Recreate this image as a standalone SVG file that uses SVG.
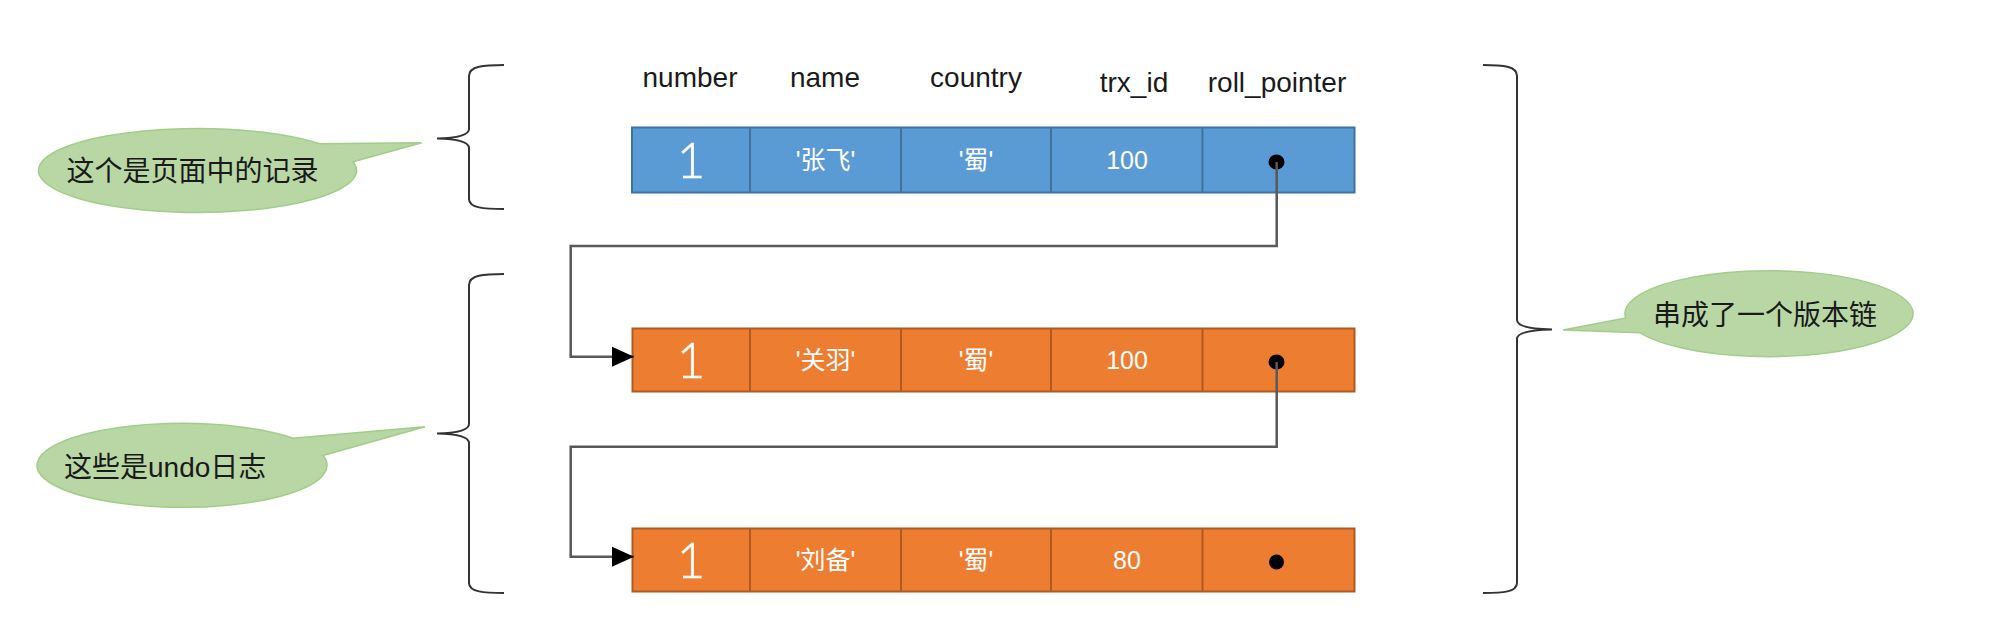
<svg xmlns="http://www.w3.org/2000/svg" width="2014" height="638" viewBox="0 0 2014 638">
<style>
.hdr{font-family:"Liberation Sans","Noto Sans CJK SC",sans-serif;font-size:28px;fill:#1a1a1a;text-anchor:middle}
.blue{fill:#5b9bd5;stroke:#41719c;stroke-width:2}
.orange{fill:#ed7d31;stroke:#ae5a21;stroke-width:2}
.div{stroke-width:2}
.bluediv{stroke:#41719c}
.orangediv{stroke:#ae5a21}
.big{font-family:"Lato","Open Sans","Liberation Sans",sans-serif;font-weight:300;font-size:49px;fill:#ffffff;text-anchor:middle;stroke:#ffffff;stroke-width:0.6}
.val{font-family:"Liberation Sans","Noto Sans CJK SC",sans-serif;font-size:25px;fill:#ffffff;text-anchor:middle}
.dot{fill:#000000}
.conn{fill:none;stroke:#595959;stroke-width:2.5}
.brace{fill:none;stroke:#333333;stroke-width:2}
.bubble{fill:#b9d7a5;stroke:#a3cc88;stroke-width:1.5}
.btxt{font-family:"Liberation Sans","Noto Sans CJK SC",sans-serif;font-size:28px;fill:#1a1a1a}
</style>
<defs>
<marker id="arrow" markerUnits="userSpaceOnUse" markerWidth="22" markerHeight="20" refX="22" refY="10" orient="auto">
<path d="M0,0 L22,10 L0,20 Z" fill="#000000"/>
</marker>
</defs>
<rect width="2014" height="638" fill="#ffffff"/>

<g id="headers">
<text class="hdr" x="690" y="87">number</text>
<text class="hdr" x="825" y="87">name</text>
<text class="hdr" x="976" y="87">country</text>
<text class="hdr" x="1134" y="92">trx_id</text>
<text class="hdr" x="1277" y="92">roll_pointer</text>
</g>

<g id="record-page">
<rect class="blue" x="632" y="127.5" width="722.5" height="65"/>
<g class="bluediv div"><line x1="750" y1="127.5" x2="750" y2="192.5"/><line x1="901" y1="127.5" x2="901" y2="192.5"/><line x1="1051" y1="127.5" x2="1051" y2="192.5"/><line x1="1202.5" y1="127.5" x2="1202.5" y2="192.5"/></g>
<text class="big" x="691" y="178">1</text>
<text class="val" x="825.5" y="169">'张飞'</text>
<text class="val" x="976" y="169">'蜀'</text>
<text class="val" x="1127" y="169">100</text>
<ellipse class="dot" cx="1276.5" cy="162" rx="8" ry="7.5"/>
</g>

<g id="undo-1">
<rect class="orange" x="632.5" y="328.5" width="722" height="63"/>
<g class="orangediv div"><line x1="750" y1="328.5" x2="750" y2="391.5"/><line x1="901" y1="328.5" x2="901" y2="391.5"/><line x1="1051" y1="328.5" x2="1051" y2="391.5"/><line x1="1202.5" y1="328.5" x2="1202.5" y2="391.5"/></g>
<text class="big" x="691" y="378">1</text>
<text class="val" x="825.5" y="369">'关羽'</text>
<text class="val" x="976" y="369">'蜀'</text>
<text class="val" x="1127" y="369">100</text>
<ellipse class="dot" cx="1276.5" cy="362" rx="8" ry="7.5"/>
</g>

<g id="undo-2">
<rect class="orange" x="632.5" y="528.5" width="722" height="63"/>
<g class="orangediv div"><line x1="750" y1="528.5" x2="750" y2="591.5"/><line x1="901" y1="528.5" x2="901" y2="591.5"/><line x1="1051" y1="528.5" x2="1051" y2="591.5"/><line x1="1202.5" y1="528.5" x2="1202.5" y2="591.5"/></g>
<text class="big" x="691" y="578">1</text>
<text class="val" x="825.5" y="569">'刘备'</text>
<text class="val" x="976" y="569">'蜀'</text>
<text class="val" x="1127" y="569">80</text>
<ellipse class="dot" cx="1276.5" cy="562" rx="7.5" ry="7.5"/>
</g>

<g id="connectors">
<path class="conn" d="M1276.7,162 V246 H570.7 V356.7 H634" marker-end="url(#arrow)"/>
<path class="conn" d="M1276.7,362 V446.7 H570.7 V556.7 H634" marker-end="url(#arrow)"/>
</g>

<g id="braces">
<path class="brace" d="M504,65 C484,65 469,66 469,76 L469,129 C469,135 458,138 437,138.5 C458,139 469,142 469,148 L469,199 C469,208 484,209 504,209"/>
<path class="brace" d="M504,274 C484,274 469,275 469,285 L469,424 C469,430 458,433 437,433.5 C458,434 469,437 469,443 L469,583 C469,592 484,593 504,593"/>
<path class="brace" d="M1483,65 C1503,65 1517,66 1517,76 L1517,320 C1517,326 1528,329 1552,329.5 C1528,330 1517,333 1517,339 L1517,583 C1517,592 1503,593 1483,593"/>
</g>

<g id="callout-page">
<path class="bubble" d="M320,143.7 L421.7,142.7 L353,161.7 A159,42 0 1 1 320,143.7 Z"/>
<text class="btxt" x="192.5" y="181" text-anchor="middle">这个是页面中的记录</text>
</g>

<g id="callout-undo">
<path class="bubble" d="M293,438.3 L425,426.7 L323,455.5 A145,42 0 1 1 293,438.3 Z"/>
<text class="btxt" x="64" y="476.5">这些是undo日志</text>
</g>

<g id="callout-chain">
<path class="bubble" d="M1640,332.8 L1563,330 L1625.7,318 A144,43 0 1 1 1640,332.8 Z"/>
<text class="btxt" x="1765" y="325" text-anchor="middle">串成了一个版本链</text>
</g>
</svg>
